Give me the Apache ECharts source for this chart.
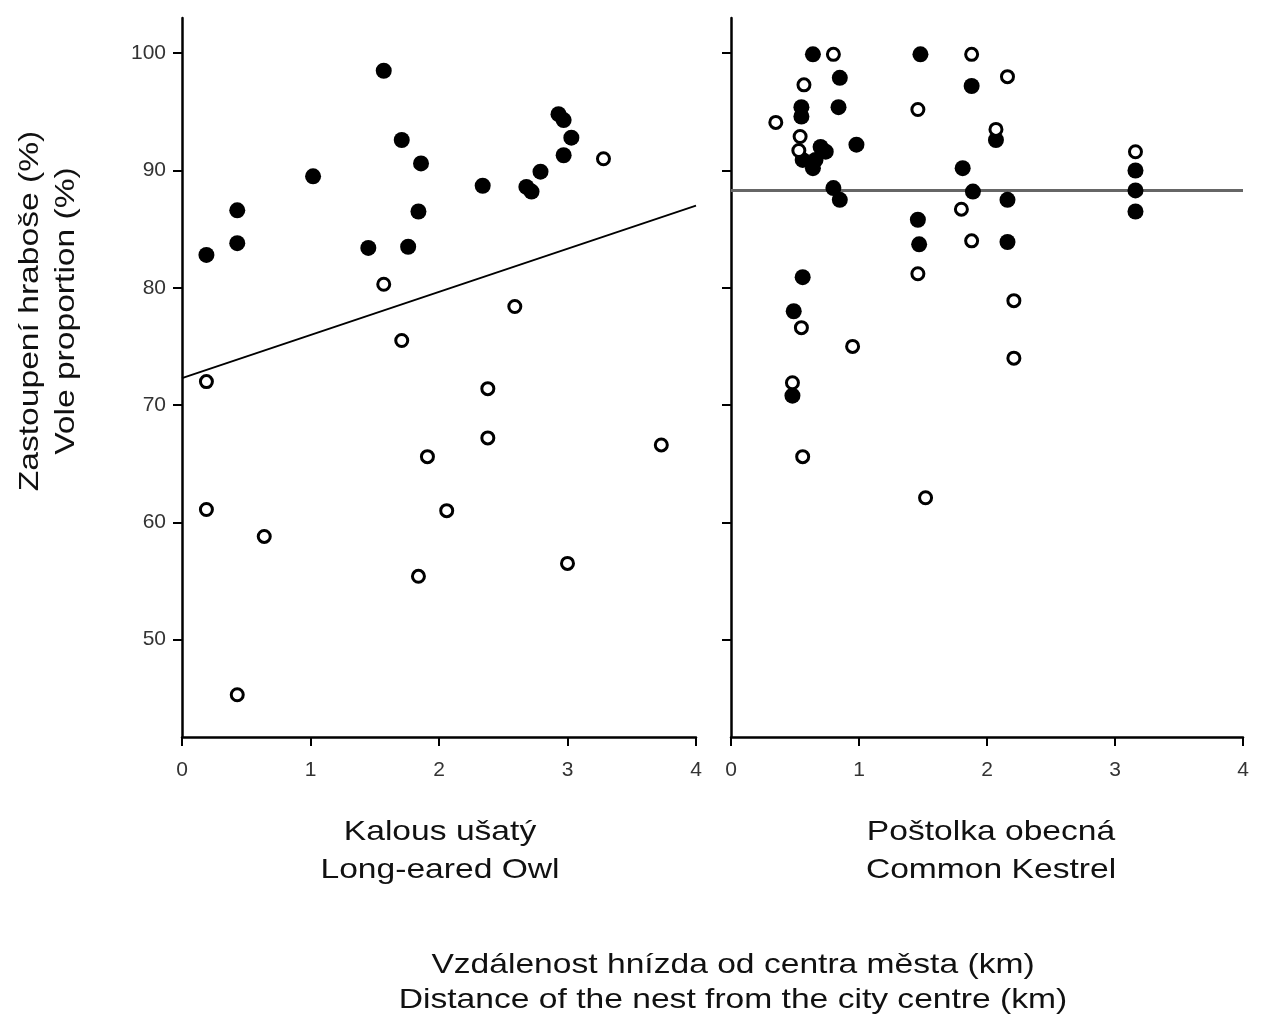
<!DOCTYPE html>
<html>
<head>
<meta charset="utf-8">
<script src="https://cdn.jsdelivr.net/npm/echarts@6/dist/echarts.min.js"></script>
<style>html,body{margin:0;padding:0;background:#fff}#c{width:1266px;height:1019px}</style>
</head>
<body>
<div id="c"></div>
<script>
// Long-eared Owl (Kalous ušatý)
var owlFilled = [[0.19,82.8],[0.43,86.6],[0.43,83.8],[1.02,89.5],[1.57,98.5],[1.71,92.6],[1.86,90.6],[1.84,86.5],[1.45,83.4],[1.76,83.5],[2.34,88.7],[2.68,88.6],[2.72,88.2],[2.79,89.9],[2.93,94.8],[2.97,94.3],[3.03,92.8],[2.97,91.3]];
var owlOpen = [[3.28,91.0],[1.57,80.3],[2.59,78.4],[1.71,75.5],[0.19,72.0],[2.38,71.4],[2.38,67.2],[1.91,65.6],[3.73,66.6],[0.19,61.1],[0.64,58.8],[2.06,61.0],[1.84,55.4],[3.00,56.5],[0.43,45.3]];
var owlTrend = [[0,72.3],[4,87.0]];
// Common Kestrel (Poštolka obecná)
var kestrelFilled = [[0.64,99.9],[1.48,99.9],[0.85,97.9],[1.88,97.2],[0.84,95.4],[0.55,95.4],[0.55,94.6],[0.98,92.2],[0.70,92.0],[0.74,91.6],[0.56,90.9],[0.66,90.9],[0.64,90.2],[2.07,92.6],[1.81,90.2],[0.80,88.5],[0.85,87.5],[1.89,88.2],[2.16,87.5],[1.46,85.8],[1.47,83.7],[2.16,83.9],[0.56,80.9],[0.49,78.0],[0.48,70.8],[3.16,90.0],[3.16,88.3],[3.16,86.5]];
var kestrelOpen = [[0.80,99.9],[1.88,99.9],[2.16,98.0],[0.57,97.3],[0.35,94.1],[1.46,95.2],[0.54,92.9],[0.53,91.7],[2.07,93.5],[3.16,91.6],[1.80,86.7],[1.88,84.0],[1.46,81.2],[2.21,78.9],[0.55,76.6],[0.95,75.0],[2.21,74.0],[0.48,71.9],[0.56,65.6],[1.52,62.1]];
var kestrelTrend = [[0,88.3],[4,88.3]];
// ticks
var yTicks = [50,60,70,80,90,100];
var xTicks = [0,1,2,3,4];
var yTitle = ['Zastoupení hraboše (%)','Vole proportion (%)'];
var panelTitles = [['Kalous ušatý','Long-eared Owl'],['Poštolka obecná','Common Kestrel']];
var xTitle = ['Vzdálenost hnízda od centra města (km)','Distance of the nest from the city centre (km)'];

var FONT = '"Liberation Sans", Arial, sans-serif';
var chart = echarts.init(document.getElementById('c'), null, {renderer:'canvas'});

function xAx(idx){
  return {
    type:'value', gridIndex:idx, min:0, max:4, interval:1,
    axisLine:{show:true, lineStyle:{color:'#000', width:2.5}},
    axisTick:{show:true, inside:false, length:9, lineStyle:{color:'#000', width:2}},
    axisLabel:{show:true, margin:23, color:'#333', fontSize:21, fontFamily:FONT},
    splitLine:{show:false}
  };
}
function yAx(idx, showLabel){
  return {
    type:'value', gridIndex:idx, min:41.7, max:103,
    axisLine:{show:true, onZero:false, lineStyle:{color:'#000', width:2.5}},
    axisTick:{show:true, inside:false, length:9, customValues:yTicks, lineStyle:{color:'#000', width:2}},
    axisLabel:{show:showLabel, margin:16, customValues:yTicks, color:'#333', fontSize:21, fontFamily:FONT},
    splitLine:{show:false}
  };
}
function filled(data, i){
  return {type:'scatter', xAxisIndex:i, yAxisIndex:i, data:data, symbol:'circle', symbolSize:16,
    itemStyle:{color:'#000', borderColor:'#000', borderWidth:0, opacity:1}, z:3, silent:true};
}
function open(data, i){
  return {type:'scatter', xAxisIndex:i, yAxisIndex:i, data:data, symbol:'circle', symbolSize:12,
    itemStyle:{color:'#fff', borderColor:'#000', borderWidth:3, opacity:1}, z:4, silent:true};
}
var graphics = [];
yTitle.forEach(function(t, k){
  graphics.push({type:'text', x:[30,66][k], y:311, rotation:Math.PI/2, scaleX:1.2,
    style:{text:t, fill:'#111', font:'28px '+FONT, textAlign:'center', textVerticalAlign:'middle'}});
});
panelTitles.forEach(function(p, j){
  p.forEach(function(t, k){
    graphics.push({type:'text', x:[440,991][j], y:[832,870][k], scaleX:1.2,
      style:{text:t, fill:'#111', font:'28px '+FONT, textAlign:'center', textVerticalAlign:'middle'}});
  });
});
xTitle.forEach(function(t, k){
  graphics.push({type:'text', x:733, y:[965,1000][k], scaleX:1.2,
    style:{text:t, fill:'#111', font:'28px '+FONT, textAlign:'center', textVerticalAlign:'middle'}});
});

chart.setOption({
  backgroundColor:'#fff',
  animation:false,
  grid:[
    {left:182, top:18, width:514, height:719},
    {left:731, top:18, width:512, height:719}
  ],
  xAxis:[xAx(0), xAx(1)],
  yAxis:[yAx(0,true), yAx(1,false)],
  series:[
    {type:'line', xAxisIndex:0, yAxisIndex:0, data:owlTrend, symbol:'none', lineStyle:{color:'#000', width:1.8}, z:2, silent:true},
    filled(owlFilled,0), open(owlOpen,0),
    {type:'line', xAxisIndex:1, yAxisIndex:1, data:kestrelTrend, symbol:'none', lineStyle:{color:'#666', width:3}, z:2, silent:true},
    filled(kestrelFilled,1), open(kestrelOpen,1)
  ],
  graphic:graphics
});
</script>
</body>
</html>
